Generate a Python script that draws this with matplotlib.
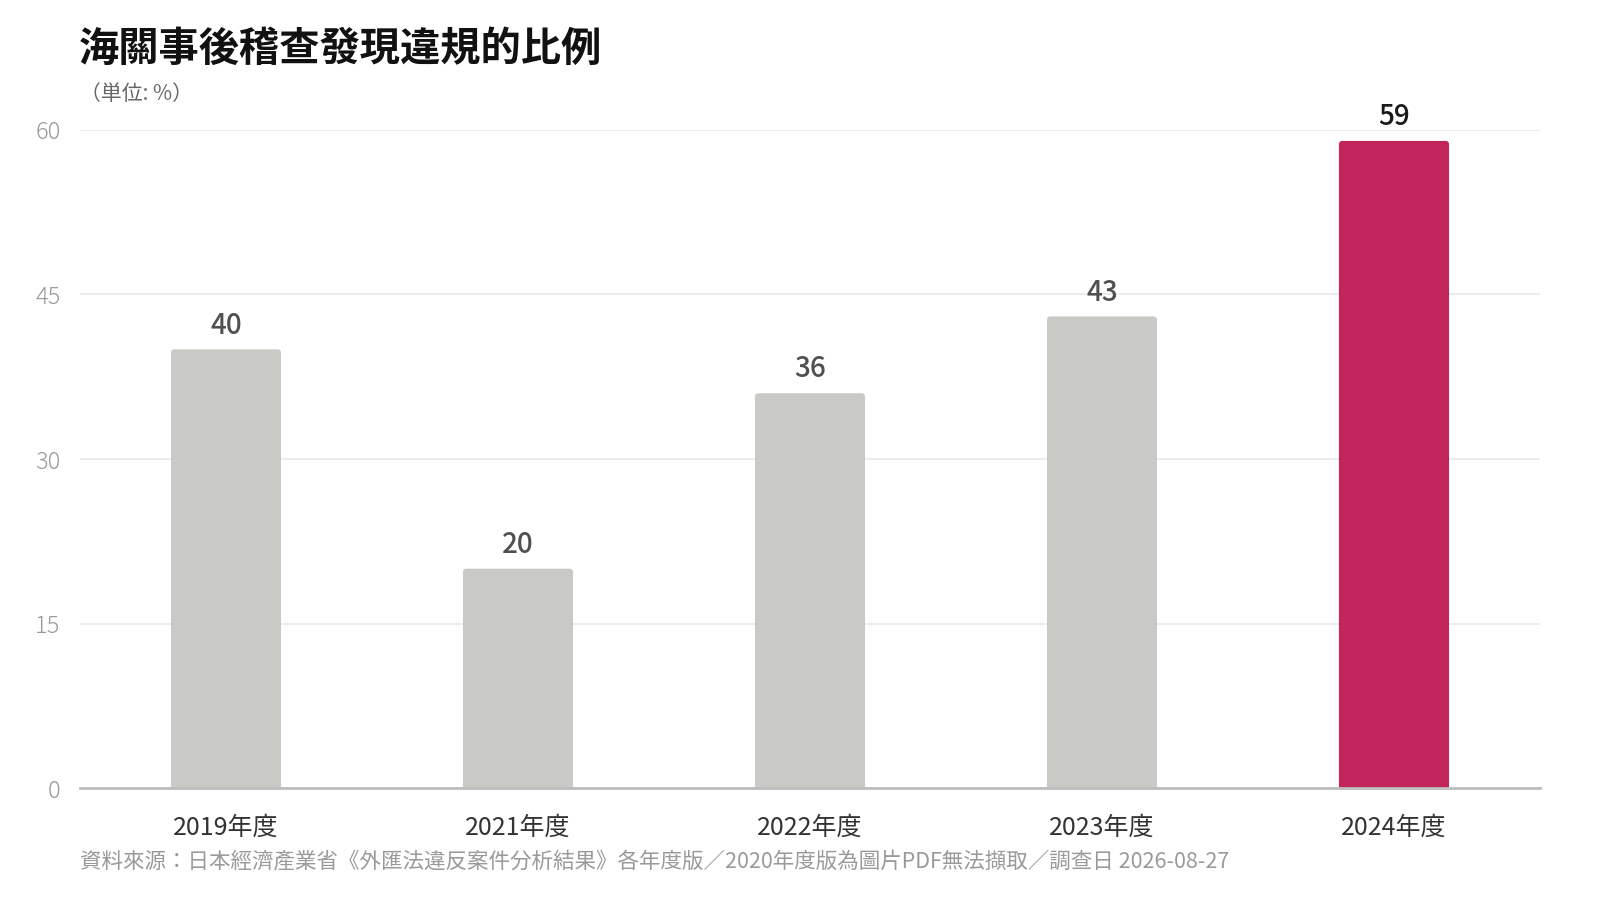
import matplotlib
matplotlib.use("Agg")
import matplotlib.pyplot as plt
from matplotlib.patches import FancyBboxPatch

plt.rcParams['font.family'] = ['Noto Sans CJK JP', 'DejaVu Sans']

categories = ["2019年度", "2021年度", "2022年度", "2023年度", "2024年度"]
values = [40, 20, 36, 43, 59]
highlight = [False, False, False, False, True]
yticks = [0, 15, 30, 45, 60]

title = "海關事後稽查發現違規的比例"
subtitle = "（単位: %）"
source = "資料來源：日本經濟產業省《外匯法違反案件分析結果》各年度版／2020年度版為圖片PDF無法擷取／調查日 2026-08-27"

GREY = "#C9CAC5"
RED = "#C2255C"

fig = plt.figure(figsize=(16, 9), dpi=100)
ax = fig.add_axes([0.05, 0.1244, 0.9125, 0.7312])

x = list(range(len(categories)))
colors = [RED if h else GREY for h in highlight]
bars = ax.bar(x, values, width=0.377, color=colors, zorder=3)

# rounded top corners
for b in bars:
    b.set_visible(False)
    bx, by = b.get_x(), b.get_y()
    w, h = b.get_width(), b.get_height()
    p = FancyBboxPatch((bx, by), w, h,
                       boxstyle="round,pad=0,rounding_size=0.012",
                       mutation_aspect=60 / 0.7312 / 9 * 16 * 0.9125 / 5,
                       facecolor=b.get_facecolor(), edgecolor="none", zorder=3)
    ax.add_patch(p)
    ax.bar(bx + w / 2, min(h, 1), width=w, color=b.get_facecolor(), zorder=3)

for xi, v, h in zip(x, values, highlight):
    ax.annotate(str(v), (xi, v), xytext=(0, 7), textcoords="offset points",
                ha="center", va="bottom", fontsize=20, fontweight="medium",
                color="#1a1a1a" if h else "#505050", zorder=4)

ax.set_xlim(-0.5, len(categories) - 0.5)
ax.set_ylim(0, 60)
ax.set_yticks(yticks)
ax.set_yticklabels([str(t) for t in yticks], fontweight="light")
ax.set_xticks(x)
ax.set_xticklabels(categories)

ax.tick_params(axis="y", length=0, pad=14, labelsize=17, labelcolor="#9a9a9a")
ax.tick_params(axis="x", length=0, pad=19, labelsize=18, labelcolor="#333333")

ax.grid(axis="y", color="#EBEBEB", linewidth=1.3, zorder=0)
ax.set_axisbelow(True)
for s in ["top", "right", "left"]:
    ax.spines[s].set_visible(False)
ax.spines["bottom"].set_color("#BDBDBD")
ax.spines["bottom"].set_linewidth(2)
ax.spines["bottom"].set_zorder(5)

fig.text(0.049, 1 - 29 / 900, title, fontsize=29, fontweight="bold",
         color="#111111", ha="left", va="top")
fig.text(0.05, 1 - 94 / 900, subtitle, fontsize=15, color="#666666",
         ha="left", va="center")
fig.text(0.05, 1 - 862 / 900, source, fontsize=15.5, color="#9a9a9a",
         ha="left", va="center")

fig.savefig("out.png", dpi=100)
